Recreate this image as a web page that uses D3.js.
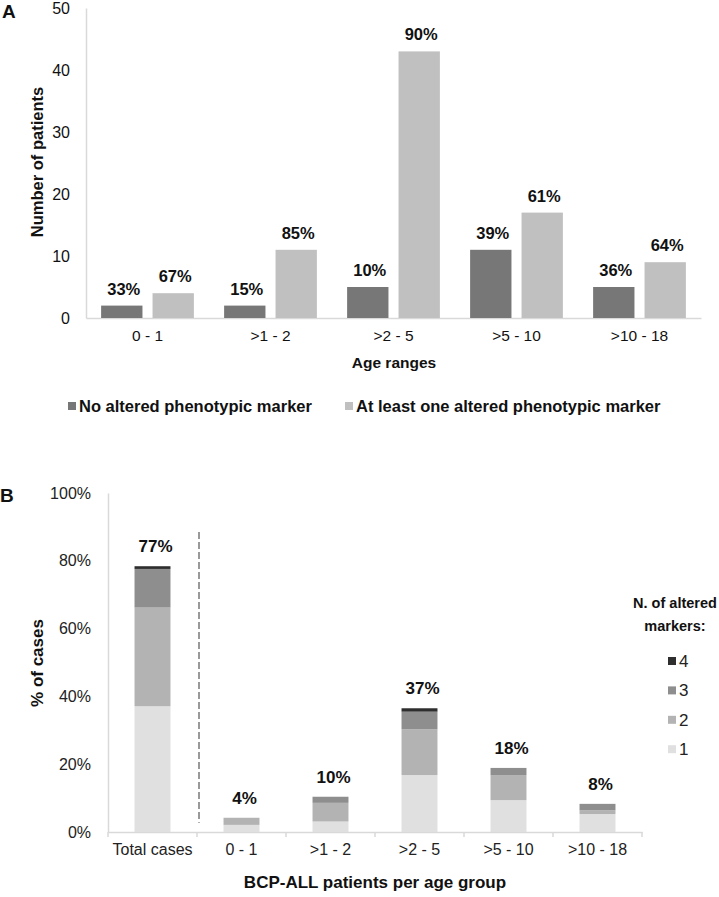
<!DOCTYPE html>
<html>
<head>
<meta charset="utf-8">
<script src="https://cdn.jsdelivr.net/npm/d3@7"></script>
<style>
  html, body { margin: 0; padding: 0; background: #fff; }
  svg { display: block; font-family: "Liberation Sans", Arial, sans-serif; }
</style>
</head>
<body>
<svg id="chart" width="719" height="897"></svg>
<script>
// ---------- Panel A data ----------
const ageRanges = ["0 - 1", ">1 - 2", ">2 - 5", ">5 - 10", ">10 - 18"];
const noAltered = [2, 2, 5, 11, 5];
const atLeastOne = [4, 11, 43, 17, 9];
const noAlteredPct = ["33%", "15%", "10%", "39%", "36%"];
const atLeastOnePct = ["67%", "85%", "90%", "61%", "64%"];
const seriesA = ["No altered phenotypic marker", "At least one altered phenotypic marker"];
const yTicksA = [0, 10, 20, 30, 40, 50];

// ---------- Panel B data ----------
const groupsB = ["Total cases", "0 - 1", ">1 - 2", ">2 - 5", ">5 - 10", ">10 - 18"];
const markers1 = [37.1, 2.1, 3.1, 16.8, 9.4, 5.3];
const markers2 = [29.1, 2.1, 5.5, 13.5, 7.4, 1.1];
const markers3 = [11.4, 0, 1.8, 5.2, 2.1, 1.9];
const markers4 = [0.8, 0, 0, 1.0, 0, 0];
const totalLabelsB = ["77%", "4%", "10%", "37%", "18%", "8%"];
const markerKeys = ["1", "2", "3", "4"];
const yTicksB = [0, 20, 40, 60, 80, 100];

const svg = d3.select("#chart");
const axisColor = "#d9d9d9";

// =============== PANEL A ===============
const colA = ["#777777", "#c0c0c0"];
const xA = d3.scaleBand().domain(ageRanges).range([86, 701]).padding(0);
const xAin = d3.scaleBand().domain([0, 1]).range([0, xA.bandwidth()])
  .paddingInner(0.196).paddingOuter(0.294);
const yA = d3.scaleLinear().domain([0, 50]).range([318, 8]);

const gA = svg.append("g");
// y axis
const yAxA = gA.append("g").attr("transform", "translate(86,0)")
  .call(d3.axisLeft(yA).tickValues(yTicksA).tickSize(0).tickPadding(16));
yAxA.select(".domain").attr("stroke", axisColor).attr("stroke-width", 1.5);
yAxA.selectAll("text").attr("font-size", 16).attr("fill", "#111")
  .attr("font-family", "Liberation Sans, Arial, sans-serif");
// x axis
const xAxA = gA.append("g").attr("transform", "translate(0,318)")
  .call(d3.axisBottom(xA).tickSize(0).tickPadding(12));
xAxA.select(".domain").attr("stroke", axisColor).attr("stroke-width", 1.5);
xAxA.selectAll("text").attr("font-size", 15.5).attr("fill", "#111")
  .attr("font-family", "Liberation Sans, Arial, sans-serif");

const seriesValsA = [noAltered, atLeastOne];
const seriesPctA = [noAlteredPct, atLeastOnePct];
seriesValsA.forEach((vals, s) => {
  gA.selectAll(".barA" + s).data(vals).enter().append("rect")
    .attr("x", (d, i) => xA(ageRanges[i]) + xAin(s))
    .attr("width", xAin.bandwidth())
    .attr("y", d => yA(d))
    .attr("height", d => yA(0) - yA(d))
    .attr("fill", colA[s]);
  gA.selectAll(".lblA" + s).data(vals).enter().append("text")
    .attr("x", (d, i) => xA(ageRanges[i]) + xAin(s) + xAin.bandwidth() / 2 + 2)
    .attr("y", d => yA(d) - 11)
    .attr("text-anchor", "middle")
    .attr("font-size", 16.5).attr("font-weight", "bold").attr("fill", "#111")
    .text((d, i) => seriesPctA[s][i]);
});

// titles
gA.append("text").attr("transform", "translate(43,162) rotate(-90)")
  .attr("text-anchor", "middle").attr("font-size", 16.5).attr("font-weight", "bold")
  .attr("fill", "#111").text("Number of patients");
gA.append("text").attr("x", 394).attr("y", 368)
  .attr("text-anchor", "middle").attr("font-size", 15.5).attr("font-weight", "bold")
  .attr("fill", "#111").text("Age ranges");
gA.append("text").attr("x", 2).attr("y", 18).attr("font-size", 19)
  .attr("font-weight", "bold").attr("fill", "#111").text("A");

// legend A
const legA = gA.append("g");
const legXA = [68, 345];
seriesA.forEach((name, s) => {
  legA.append("rect").attr("x", legXA[s]).attr("y", 402).attr("width", 8).attr("height", 8)
    .attr("fill", colA[s]);
  legA.append("text").attr("x", legXA[s] + 11).attr("y", 412)
    .attr("font-size", 16.5).attr("font-weight", "bold").attr("fill", "#111").text(name);
});

// =============== PANEL B ===============
const colB = ["#e0e0e0", "#b3b3b3", "#8e8e8e", "#2e2e2e"];
const xB = d3.scaleBand().domain(groupsB).range([108, 642]).paddingInner(0.596).paddingOuter(0.298);
const yB = d3.scaleLinear().domain([0, 100]).range([832, 493]);
const gB = svg.append("g");

const yAxB = gB.append("g").attr("transform", "translate(108,0)")
  .call(d3.axisLeft(yB).tickValues(yTicksB).tickSize(0).tickPadding(17)
    .tickFormat(d => d + "%"));
yAxB.select(".domain").attr("stroke", axisColor).attr("stroke-width", 1.5);
yAxB.selectAll("text").attr("font-size", 16).attr("fill", "#222")
  .attr("font-family", "Liberation Sans, Arial, sans-serif");

const xAxB = gB.append("g").attr("transform", "translate(0,832)")
  .call(d3.axisBottom(xB).tickSize(0).tickPadding(12));
xAxB.select(".domain").attr("stroke", axisColor).attr("stroke-width", 1.5);
xAxB.selectAll("text").attr("font-size", 16).attr("fill", "#222")
  .attr("font-family", "Liberation Sans, Arial, sans-serif");
// category boundary tick marks
const step = xB.step();
const bounds = d3.range(groupsB.length + 1).map(i => xB(groupsB[0]) - xB.paddingOuter() * step + i * step);
gB.selectAll(".btick").data(bounds).enter().append("line")
  .attr("x1", d => d).attr("x2", d => d).attr("y1", 832).attr("y2", 837)
  .attr("stroke", axisColor).attr("stroke-width", 1.5);

// stacked bars
const rowsB = groupsB.map((g, i) => ({ group: g, "1": markers1[i], "2": markers2[i], "3": markers3[i], "4": markers4[i] }));
const stackB = d3.stack().keys(markerKeys)(rowsB);
stackB.forEach((layer, k) => {
  gB.selectAll(".seg" + k).data(layer).enter().append("rect")
    .attr("x", d => xB(d.data.group))
    .attr("width", xB.bandwidth())
    .attr("y", d => yB(d[1]))
    .attr("height", d => yB(d[0]) - yB(d[1]))
    .attr("fill", colB[k]);
});
const topsB = rowsB.map(r => markerKeys.reduce((a, k) => a + r[k], 0));
gB.selectAll(".lblB").data(topsB).enter().append("text")
  .attr("x", (d, i) => xB(groupsB[i]) + xB.bandwidth() / 2 + 3)
  .attr("y", d => yB(d) - 14)
  .attr("text-anchor", "middle")
  .attr("font-size", 17).attr("font-weight", "bold").attr("fill", "#111")
  .text((d, i) => totalLabelsB[i]);

// dashed separator
const sepX = xB(groupsB[0]) + xB.bandwidth() + (xB(groupsB[1]) - xB(groupsB[0]) - xB.bandwidth()) / 2 + 2;
gB.append("line").attr("x1", sepX).attr("x2", sepX).attr("y1", yB(88.5)).attr("y2", yB(2.7))
  .attr("stroke", "#999").attr("stroke-width", 2).attr("stroke-dasharray", "7,3");

// titles
gB.append("text").attr("transform", "translate(43,663) rotate(-90)")
  .attr("text-anchor", "middle").attr("font-size", 17).attr("font-weight", "bold")
  .attr("fill", "#111").text("% of cases");
gB.append("text").attr("x", 375).attr("y", 888)
  .attr("text-anchor", "middle").attr("font-size", 17).attr("font-weight", "bold")
  .attr("fill", "#111").text("BCP-ALL patients per age group");
gB.append("text").attr("x", 0).attr("y", 502).attr("font-size", 19)
  .attr("font-weight", "bold").attr("fill", "#111").text("B");

// legend B
const legB = gB.append("g");
legB.append("text").attr("x", 675).attr("y", 608).attr("text-anchor", "middle")
  .attr("font-size", 14.5).attr("font-weight", "bold").attr("fill", "#111").text("N. of altered");
legB.append("text").attr("x", 675).attr("y", 631).attr("text-anchor", "middle")
  .attr("font-size", 14.5).attr("font-weight", "bold").attr("fill", "#111").text("markers:");
const legKeysB = markerKeys.slice().reverse();
legKeysB.forEach((k, j) => {
  const cy = 661 + j * 29.4;
  legB.append("rect").attr("x", 668).attr("y", cy - 4).attr("width", 8).attr("height", 8)
    .attr("fill", colB[markerKeys.indexOf(k)]);
  legB.append("text").attr("x", 679).attr("y", cy + 6).attr("font-size", 17)
    .attr("fill", "#222").text(k);
});
</script>
</body>
</html>
